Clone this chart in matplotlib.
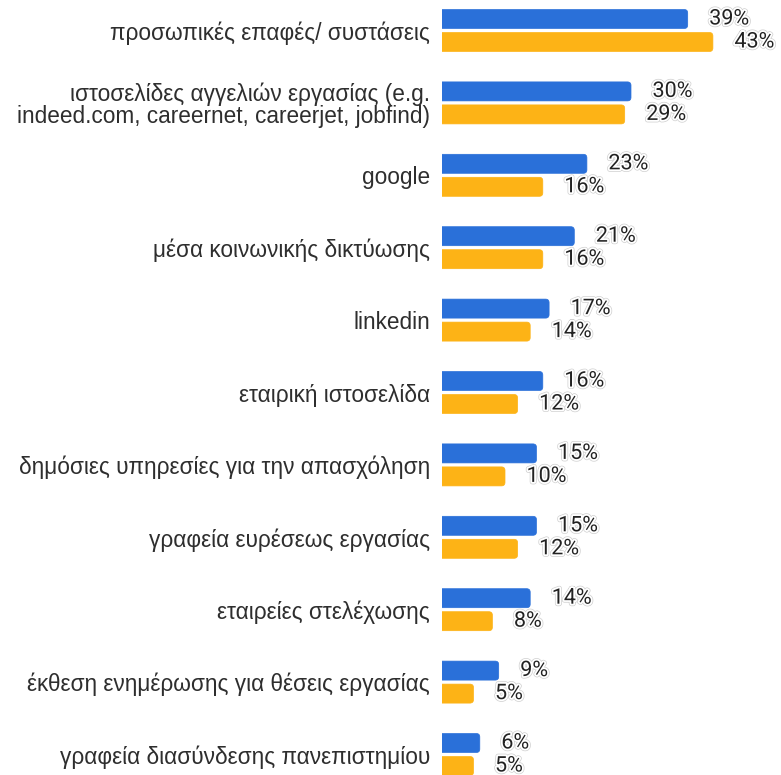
import matplotlib
matplotlib.use("Agg")
import matplotlib.pyplot as plt
from matplotlib.patches import FancyBboxPatch
import matplotlib.patheffects as pe

categories = [
    "προσωπικές επαφές/ συστάσεις",
    "ιστοσελίδες αγγελιών εργασίας (e.g.\nindeed.com, careernet, careerjet, jobfind)",
    "google",
    "μέσα κοινωνικής δικτύωσης",
    "linkedin",
    "εταιρική ιστοσελίδα",
    "δημόσιες υπηρεσίες για την απασχόληση",
    "γραφεία ευρέσεως εργασίας",
    "εταιρείες στελέχωσης",
    "έκθεση ενημέρωσης για θέσεις εργασίας",
    "γραφεία διασύνδεσης πανεπιστημίου",
]
series_blue = [39, 30, 23, 21, 17, 16, 15, 15, 14, 9, 6]
series_orange = [43, 29, 16, 16, 14, 12, 10, 12, 8, 5, 5]

BLUE = "#2a70d9"
ORANGE = "#fdb316"

W, H = 781, 775
fig = plt.figure(figsize=(W / 100, H / 100), dpi=100)
ax = fig.add_axes([442 / W, 0, 1 - 442 / W, 1])

px_x = 6.3      # pixels per percent
px_y = 72.4     # pixels per group
top_px = 30.5
xmax = (W - 442) / px_x
ax.set_xlim(0, xmax)
ax.set_ylim((H - top_px) / px_y, -top_px / px_y)

off = 11.5 / px_y
h = 19 / px_y
r_px = 3.5
aspect = (1 / px_y) / (1 / px_x)

halo = [pe.Stroke(linewidth=3.6, foreground="#cfcfcf"),
        pe.Stroke(linewidth=2.6, foreground="white"),
        pe.Normal()]

for i, (b, o) in enumerate(zip(series_blue, series_orange)):
    for val, dy, col in ((b, -off, BLUE), (o, off, ORANGE)):
        y = i + dy
        patch = FancyBboxPatch((-2, y - h / 2), val + 2, h,
                               boxstyle=f"round,pad=0,rounding_size={r_px / px_x}",
                               mutation_aspect=aspect,
                               facecolor=col, edgecolor=col, linewidth=0.5)
        ax.add_patch(patch)
        t = ax.annotate(f"{val}%", xy=(val, y), xytext=(15.5, 0),
                        textcoords="offset points", ha="left", va="center",
                        fontsize=15.5, family="Roboto",
                        color="#222222")
        t.set_path_effects(halo)

ax.set_yticks(range(len(categories)))
ax.set_yticklabels(categories, family="Liberation Sans", fontsize=16.3,
                   color="#2e2e2e", linespacing=0.95)
ax.tick_params(axis="y", length=0, pad=8.6)
ax.set_xticks([])
for s in ax.spines.values():
    s.set_visible(False)

fig.savefig("out.png", dpi=100)
